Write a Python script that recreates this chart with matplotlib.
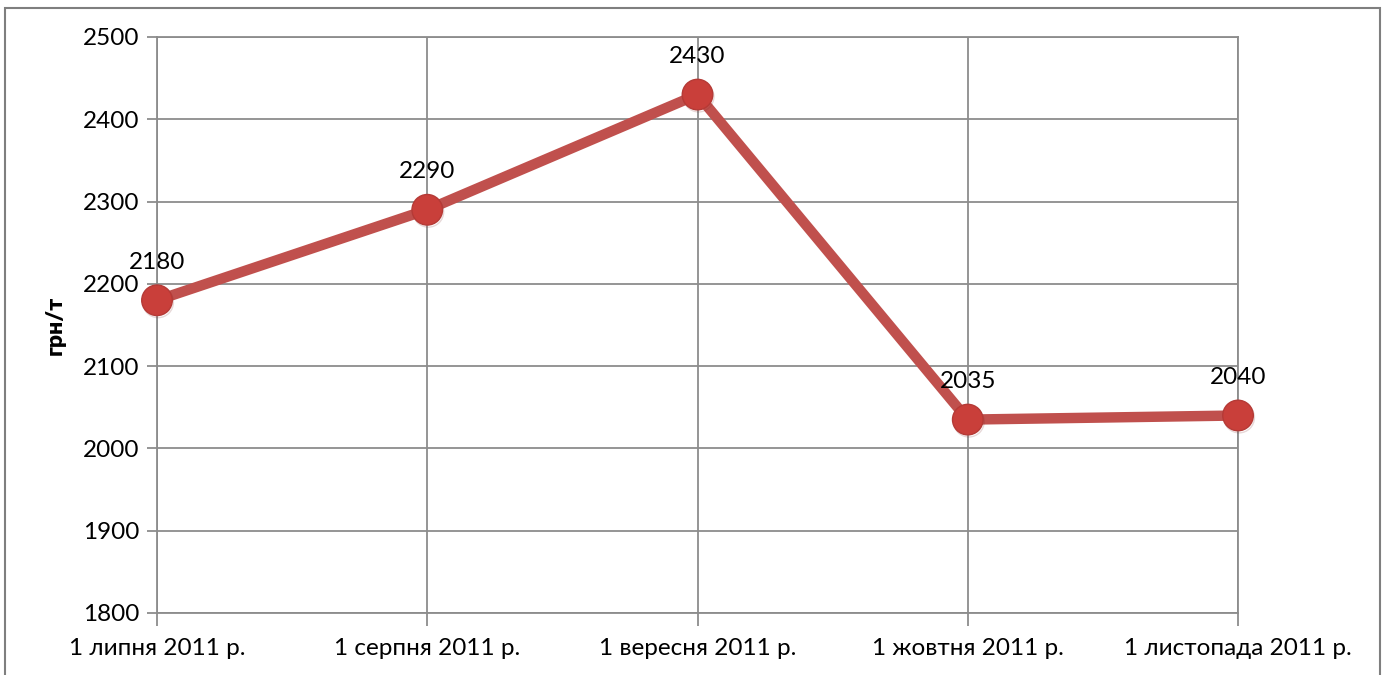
import matplotlib.pyplot as plt
import matplotlib.patheffects as pe
from matplotlib.patches import Rectangle

plt.rcParams['font.family'] = ['Lato', 'DejaVu Sans']

dates = ['1 липня 2011 р.', '1 серпня 2011 р.', '1 вересня 2011 р.',
         '1 жовтня 2011 р.', '1 листопада 2011 р.']
prices = [2180, 2290, 2430, 2035, 2040]
yticks = [1800, 1900, 2000, 2100, 2200, 2300, 2400, 2500]

grid_col = '#8c8c8c'
red = '#c0504d'

fig = plt.figure(figsize=(13.87, 6.75), dpi=100)
ax = fig.add_axes([0.1132, 0.0919, 0.7794, 0.8533])

x = list(range(len(dates)))
ax.plot(x, prices, color=red, lw=7.5, solid_capstyle='round', zorder=3)
ax.plot(x, prices, ls='none', marker='o', ms=22, mfc='#c93f3a',
        mec='#b53a36', mew=1.0, zorder=4, clip_on=False,
        path_effects=[pe.SimpleLineShadow(offset=(0.8, -1.5), alpha=0.18, shadow_color='#7a2a28'),
                      pe.Normal()])

for xi, v in zip(x, prices):
    ax.annotate(str(v), (xi, v), xytext=(0, 38), textcoords='offset pixels',
                ha='center', va='center', fontsize=17.5, color='black', zorder=5)

ax.set_xlim(0, len(dates) - 1)
ax.set_ylim(1800, 2500)
ax.set_yticks(yticks)
ax.set_xticks(x)
ax.set_xticklabels(dates)
ax.grid(True, color=grid_col, lw=1.3)
ax.set_axisbelow(True)
for s in ax.spines.values():
    s.set_color(grid_col)
    s.set_linewidth(1.3)
ax.tick_params(axis='y', length=7, width=1.3, color=grid_col, labelsize=17.5, pad=6)
ax.tick_params(axis='x', length=9, width=1.3, color=grid_col, labelsize=17.5, pad=9)
ax.set_ylabel('грн/т', fontsize=16.5, fontweight='heavy', labelpad=12)

fig.patches.append(Rectangle((4.5 / 1387, -0.05), 1375.5 / 1387, 1.05 - 8 / 675,
                             transform=fig.transFigure, fill=False,
                             edgecolor='#7f7f7f', lw=1.5))

fig.savefig('out.png', dpi=100)
